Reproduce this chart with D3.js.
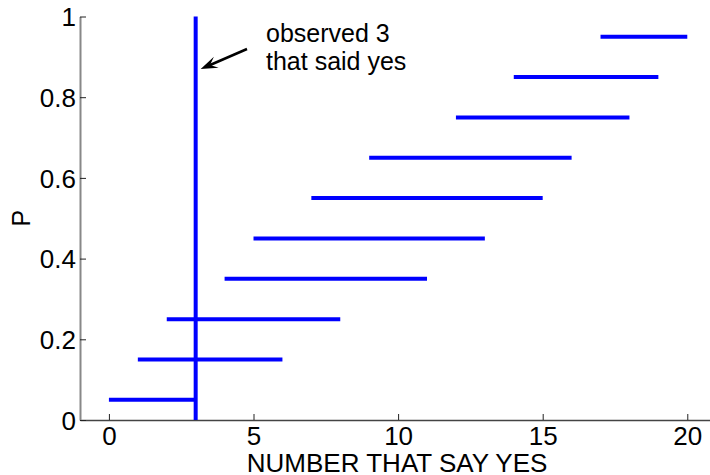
<!DOCTYPE html>
<html><head><meta charset="utf-8">
<script src="https://cdn.jsdelivr.net/npm/d3@7"></script>
<style>
body{margin:0;background:#fff;}
svg{display:block;font-family:"Liberation Sans",Arial,sans-serif;}
</style></head>
<body>
<svg id="c" width="710" height="475"></svg>
<script>
const pValues = [0.05,0.15,0.25,0.35,0.45,0.55,0.65,0.75,0.85,0.95];
const lowerCounts = [0,1,2,4,5,7,9,12,14,17];
const upperCounts = [3,6,8,11,13,15,16,18,19,20];
const observed = 3;
const xTicks = [0,5,10,15,20];
const yTicks = [0,0.2,0.4,0.6,0.8,1];
const yTickLabels = ["0","0.2","0.4","0.6","0.8","1"];
const xLabel = "NUMBER THAT SAY YES";
const yLabel = "P";
const noteLines = ["observed 3","that said yes"];

const svg = d3.select("#c");
const x = d3.scaleLinear().domain([-1,21]).range([80,716.2]);
const y = d3.scaleLinear().domain([0,1]).range([420,16.5]);

// axes
const gx = svg.append("g").attr("transform","translate(0,420)")
  .call(d3.axisBottom(x).tickValues(xTicks).tickFormat(d3.format("d")).tickSizeInner(-6).tickSizeOuter(0).tickPadding(7));
gx.select(".domain").attr("stroke","#444").attr("stroke-width",1.5);
gx.selectAll(".tick line").attr("stroke","#222").attr("stroke-width",1);
gx.selectAll(".tick text").attr("font-size",26).attr("fill","#000").attr("font-family","Liberation Sans, Arial, sans-serif");

const gy = svg.append("g").attr("transform","translate(80,0)")
  .call(d3.axisLeft(y).tickValues(yTicks).tickFormat((d,i)=>yTickLabels[i]).tickSizeInner(-6).tickSizeOuter(0).tickPadding(4));
gy.select(".domain").attr("stroke","#888").attr("stroke-width",2);
gy.selectAll(".tick line").attr("stroke","#222").attr("stroke-width",1);
gy.selectAll(".tick text").attr("font-size",26).attr("fill","#000").attr("font-family","Liberation Sans, Arial, sans-serif").attr("dy","0.36em");

// labels
svg.append("text").attr("x",x(10)-1).attr("y",471.5).attr("text-anchor","middle")
  .attr("font-size",26).attr("fill","#000").text(xLabel);
svg.append("text").attr("transform",`translate(29.5,${y(0.5)}) rotate(-90)`).attr("text-anchor","middle")
  .attr("font-size",25).attr("fill","#000").text(yLabel);

// horizontal interval lines
svg.append("g").selectAll("line").data(pValues).join("line")
  .attr("x1",(d,i)=>x(lowerCounts[i])).attr("x2",(d,i)=>x(upperCounts[i]))
  .attr("y1",d=>y(d)).attr("y2",d=>y(d))
  .attr("stroke","#0000ff").attr("stroke-width",4);

// observed vertical line
svg.append("line").attr("x1",x(observed)).attr("x2",x(observed))
  .attr("y1",y(0)).attr("y2",y(1))
  .attr("stroke","#0000ff").attr("stroke-width",4);

// annotation
const tipX = x(observed)+5, tipY = 69;
const startX = 247, startY = 49;
svg.append("line").attr("x1",startX).attr("y1",startY).attr("x2",tipX+6).attr("y2",tipY-2.5)
  .attr("stroke","#000").attr("stroke-width",2.5);
const ang = Math.atan2(tipY-startY, tipX-startX);
const L = 17, W = 6;
const bx = tipX - L*Math.cos(ang), by = tipY - L*Math.sin(ang);
const px = -Math.sin(ang), py = Math.cos(ang);
svg.append("path").attr("d",`M${tipX},${tipY}L${bx+W*px},${by+W*py}L${tipX-0.6*L*Math.cos(ang)},${tipY-0.6*L*Math.sin(ang)}L${bx-W*px},${by-W*py}Z`)
  .attr("fill","#000");

const note = svg.append("text").attr("x",266).attr("y",41.5).attr("font-size",25).attr("fill","#000");
noteLines.forEach((t,i)=>note.append("tspan").attr("x",266).attr("dy",i?28:0).text(t));
</script>
</body></html>
